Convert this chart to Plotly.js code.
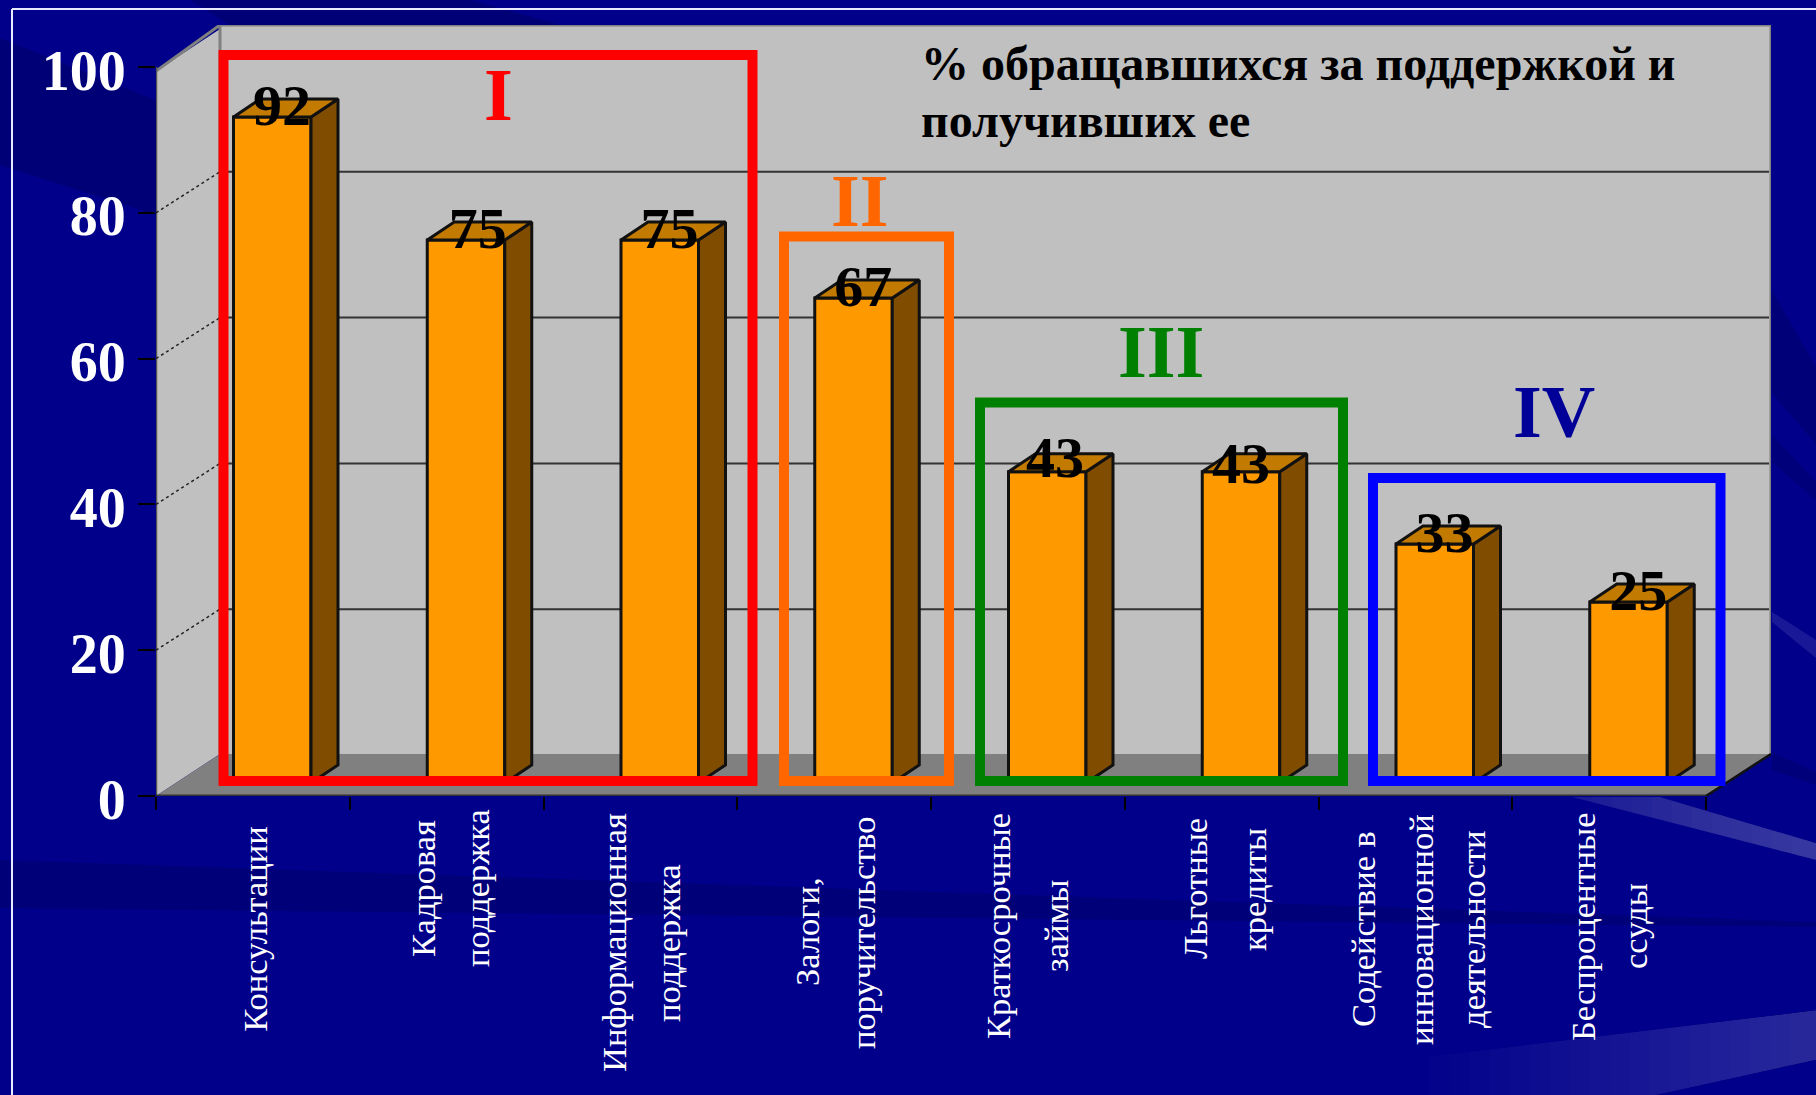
<!DOCTYPE html>
<html><head><meta charset="utf-8">
<script src="https://cdn.plot.ly/plotly-3.0.1.min.js"></script>
<style>html,body{margin:0;padding:0;background:#00008a;overflow:hidden}</style>
</head><body><div id="chart" style="width:1816px;height:1095px"></div>
<script>
const categories = ["Консультации","Кадровая<br>поддержка","Информационная<br>поддержка","Залоги,<br>поручительство","Краткосрочные<br>займы","Льготные<br>кредиты","Содействие в<br>инновационной<br>деятельности","Беспроцентные<br>ссуды"];
const values = [92,75,75,67,43,43,33,25];
const yTicks = [0,20,40,60,80,100];
const titleLines = ["% обращавшихся за поддержкой и","получивших ее"];
const groupNames = ["I","II","III","IV"];
const groupColors = ["#ff0000","#ff6600","#008000","#0000ff"];
const groupTextColors = ["#ff0000","#ff6600","#008000","#000099"];

// pixel helpers: plot area spans the whole pseudo-3D box
const L=156,R=1771,T=25,B=796,CAT=193.75,UNIT=7.29,WALLX=64,WALLY=41,FLOORY=754;
const X=p=>-0.5+(p-L)/CAT, Y=p=>(B-p)/UNIT, PX=p=>(p-L)/(R-L), PY=p=>(B-p)/(B-T);
const BZERO=783,BUNIT=7.24, Y2=p=>(BZERO-p)/BUNIT;
const barW=0.40,barDx=27/CAT,barDy=18/BUNIT,barShift=0.1;
const barX=values.map((_,i)=>i+barShift);
const lineOffsets=[[0.01],[-0.122,0.157],[-0.136,0.143],[-0.14,0.149],[-0.154,0.145],[-0.137,0.167],[-0.27,0.029,0.297],[-0.135,0.134]];
const labelNudgeX=[0,0.01,0,0,-0.01,-0.05,0,0], labelNudgeY=[0,0,0,0,0.3,-0.4,0,0];

const side={x:[],y:[]},top_={x:[],y:[]};
values.forEach((v,i)=>{const l=barX[i]-barW/2,r=barX[i]+barW/2;
 side.x.push(r,r+barDx,r+barDx,r,r,null);side.y.push(0,barDy,v+barDy,v,0,null);
 top_.x.push(l,r,r+barDx,l+barDx,l,null);top_.y.push(v,v,v+barDy,v+barDy,v,null);});

const traces=[
 {type:'bar',x:barX,y:values,width:barW,yaxis:'y2',marker:{color:'#ff9900',line:{color:'#111',width:3}},hoverinfo:'y'},
 {type:'scatter',mode:'lines',x:side.x,y:side.y,yaxis:'y2',fill:'toself',fillcolor:'#804c00',line:{color:'#111',width:3},hoverinfo:'skip'},
 {type:'scatter',mode:'lines',x:top_.x,y:top_.y,yaxis:'y2',fill:'toself',fillcolor:'#c27a00',line:{color:'#111',width:3},hoverinfo:'skip'},
 {type:'scatter',mode:'text',x:barX.map((v,i)=>v+0.05+labelNudgeX[i]),y:values.map((v,i)=>v+0.9+labelNudgeY[i]),yaxis:'y2',text:values.map(String),textposition:'middle center',
  textfont:{family:'Liberation Serif',size:58,color:'#000',weight:700},hoverinfo:'skip'}
];

const poly=(pts,fill,line,width,dash)=>({type:'path',layer:'below',xref:'x',yref:'y',
 path:'M'+pts.map(p=>X(p[0])+','+Y(p[1])).join(' L')+(fill?' Z':''),fillcolor:fill||'rgba(0,0,0,0)',line:{color:line||'rgba(0,0,0,0)',width:width||0,dash:dash||'solid'}});
const shapes=[];
// backdrop sweeps
const sweep=(pts,fill)=>({type:'path',layer:'below',xref:'paper',yref:'paper',path:'M'+pts.map(p=>PX(p[0])+','+PY(p[1])).join(' L')+' Z',fillcolor:fill,line:{width:0}});
const DARK='rgba(0,0,50,0.22)';
shapes.push(sweep([[0,38],[160,102],[160,216],[0,165]],DARK));
shapes.push(sweep([[190,0],[470,0],[560,25],[230,25]],DARK));
shapes.push(sweep([[0,860],[1816,922],[1816,927],[0,908]],'rgba(0,0,50,0.2)'));
shapes.push(sweep([[1772,291],[1816,367],[1816,444],[1772,393]],'rgba(0,0,50,0.2)'));
shapes.push(sweep([[1772,435],[1816,482],[1816,500],[1772,462]],'rgba(0,0,50,0.18)'));
shapes.push(sweep([[1772,752],[1816,772],[1816,785],[1772,770]],'rgba(0,0,50,0.18)'));
// upper-right streak, brightening towards the edge
const upTop=x=>797+(x-1660)/156*46, upBot=x=>797+(x-1572)/244*63;
for(let x0=1572;x0<1800;x0+=20){
 const pts=x0<1660?[[x0,797],[1660,797]]:[[x0,upTop(x0)]];
 pts.push([1816,843],[1816,860],[x0,upBot(x0)]);
 shapes.push(sweep(pts,'rgba(170,170,220,'+(x0==1572?0.16:0.022)+')'));
}
// lower-right streak, fading to the left
const lowTop=x=>1048-0.12*(x-1500), lowBot=x=>Math.min(1095,1060+(1816-x)*0.221);
for(let x0=1430;x0<1800;x0+=20){
 const pts=[[x0,lowTop(x0)],[1816,lowTop(1816)],[1816,lowBot(1816)]];
 if(x0<1657)pts.push([1657,1095]);
 pts.push([x0,lowBot(x0)]);
 shapes.push(sweep(pts,'rgba(150,150,220,0.02)'));
}
shapes.push(sweep([[1772,612],[1816,640],[1816,658],[1772,622]],'rgba(140,140,210,0.18)'));
// walls
shapes.push(poly([[L+WALLX,T],[R,T],[R,FLOORY],[L+WALLX,FLOORY]],'#c0c0c0'));
shapes.push(poly([[L,B],[L,71],[L+WALLX,T+4],[L+WALLX,FLOORY]],'#c0c0c0'));
shapes.push(poly([[L,B],[L+WALLX,FLOORY],[R,FLOORY],[1706,B]],'#808080'));
shapes.push(poly([[L+WALLX,FLOORY],[L+WALLX,T],[R,T],[R,FLOORY]],null,'#808080',3));
shapes.push(poly([[L,71],[L+WALLX,T]],null,'#808080',3));
shapes.push(poly([[L,B],[L,67]],null,'#555',2.5));
yTicks.slice(1,-1).forEach(v=>{
 const yf=B-v*UNIT;
 shapes.push(poly([[L+WALLX,yf-WALLY],[R-2,yf-WALLY]],null,'#333',2));
 shapes.push(poly([[L,yf],[L+WALLX,yf-WALLY]],null,'#222',1.5,'dot'));
});
shapes.push(poly([[L,B],[1706,B]],null,'#333',3));
shapes.push(poly([[1706,B],[R,FLOORY]],null,'#111',2.5));
// group boxes
const boxes=[[223.5,752.5,55],[784,949,236.5],[980,1343,402.5],[1373,1720.5,478]];
boxes.forEach((b,i)=>shapes.push({type:'rect',layer:'above',xref:'x',yref:'y',x0:X(b[0]),x1:X(b[1]),y0:Y(781),y1:Y(b[2]),line:{color:groupColors[i],width:10}}));
// frame
shapes.push({type:'line',layer:'above',xref:'paper',yref:'paper',x0:PX(12),x1:PX(1816),y0:PY(9),y1:PY(9),line:{color:'#e8e8ff',width:2}});
shapes.push({type:'line',layer:'above',xref:'paper',yref:'paper',x0:PX(12),x1:PX(12),y0:PY(9),y1:PY(1095),line:{color:'#e8e8ff',width:2}});

const annotations=[];
const groupPos=[[498,95],[860,201],[1161,352],[1554,412]];
groupNames.forEach((n,i)=>annotations.push({x:X(groupPos[i][0]),y:Y(groupPos[i][1]),xref:'x',yref:'y',text:n,showarrow:false,
 font:{family:'Liberation Serif',size:74,color:groupTextColors[i],weight:700},xanchor:'center',yanchor:'middle'}));
titleLines.forEach((t,i)=>annotations.push({x:X(919),y:Y(63+i*57),xref:'x',yref:'y',text:t,showarrow:false,align:'left',xanchor:'left',yanchor:'middle',
 font:{family:'Liberation Serif',size:48,color:'#000',weight:700}}));
// category labels, one annotation per line so the wide line pitch can be kept
const labelCentres=[929,888,943,932,926,889,929,926];
categories.forEach((c,i)=>c.split('<br>').forEach((t,j)=>annotations.push({
 x:i+lineOffsets[i][j],y:PY(labelCentres[i]),xref:'x',yref:'paper',text:t,showarrow:false,textangle:-90,xanchor:'center',yanchor:'middle',
 font:{family:'Liberation Serif',size:34.5,color:'#fff'}})));

const layout={width:1816,height:1095,showlegend:false,margin:{l:L,r:1816-R,t:T,b:1095-B,pad:0},
 paper_bgcolor:'#00008a',plot_bgcolor:'rgba(0,0,0,0)',barmode:'overlay',
 xaxis:{type:'linear',range:[X(L),X(R)],showgrid:false,zeroline:false,showline:false,tickmode:'array',tickvals:[0,1,2,3,4,5,6,7,8].map(v=>v-0.5),ticktext:['','','','','','','','',''],ticks:'outside',ticklen:13,tickwidth:2,tickcolor:'#000'},
 yaxis:{range:[0,Y(T)],showgrid:false,zeroline:false,showline:false,tickmode:'array',tickvals:yTicks,ticktext:yTicks.map(String),ticks:'outside',ticklen:17,tickwidth:2,tickcolor:'#000',
  tickfont:{family:'Liberation Serif',size:56,color:'#fff',weight:700},ticklabelshift:3,ticklabelstandoff:1},
 yaxis2:{overlaying:'y',range:[Y2(B),Y2(T)],visible:false,side:'right'},
 shapes,annotations};
Plotly.newPlot('chart',traces,layout,{displayModeBar:false,staticPlot:true});
</script></body></html>
